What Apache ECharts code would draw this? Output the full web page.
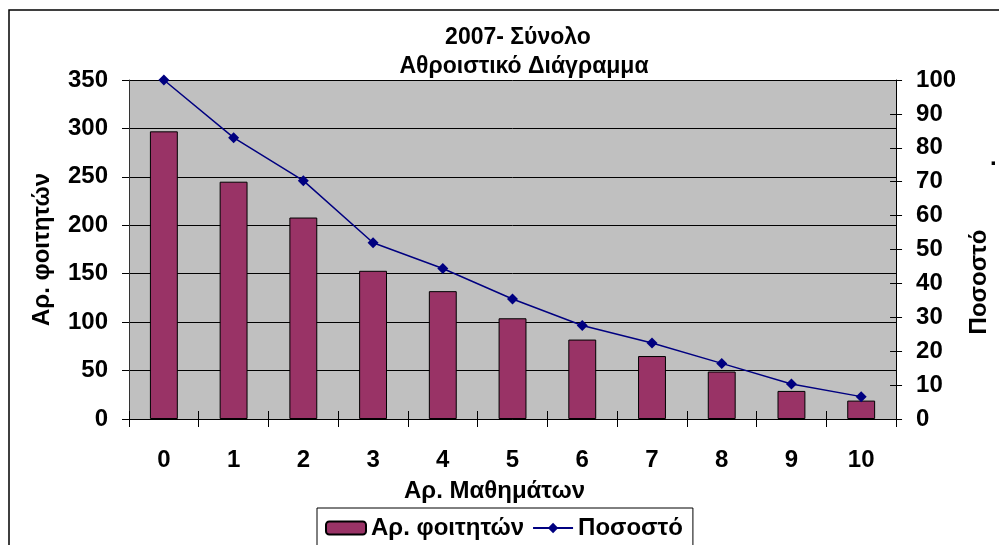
<!DOCTYPE html>
<html>
<head>
<meta charset="utf-8">
<script src="https://cdn.jsdelivr.net/npm/echarts@6/dist/echarts.min.js"></script>
<style>
    html, body { margin: 0; padding: 0; background: #ffffff; }
    #chart { width: 999px; height: 545px; }
</style>
</head>
<body>
<div id="chart"></div>
<script>
    // δεδομένα
    var categories = ['0', '1', '2', '3', '4', '5', '6', '7', '8', '9', '10'];
    var students = [297, 245, 208, 153, 132, 104, 82, 65, 49, 29, 19];
    var percent = [100, 83, 70.3, 52, 44.4, 35.4, 27.6, 22.4, 16.4, 10.3, 6.6];
    var leftTicks = { min: 0, max: 350, interval: 50 };
    var rightTicks = { min: 0, max: 100, interval: 10 };

    var font = 'Arial, "Liberation Sans", sans-serif';
    var bold = { fontFamily: font, fontWeight: 'bold', fontSize: 24, color: '#000' };

    var chart = echarts.init(document.getElementById('chart'));
    var options = {
        backgroundColor: '#ffffff',
        animation: false,
        title: [{
            text: '2007- Σύνολο',
            left: 513,
            top: 21,
            textAlign: 'center',
            textStyle: { fontFamily: font, fontWeight: 'bold', fontSize: 23, color: '#000' }
        }, {
            text: 'Αθροιστικό Διάγραμμα',
            left: 519,
            top: 50,
            textAlign: 'center',
            textStyle: { fontFamily: font, fontWeight: 'bold', fontSize: 23, color: '#000' }
        }],
        legend: {
            left: 317,
            top: 508,
            padding: [8, 10, 8, 8],
            itemGap: 8,
            itemWidth: 40,
            itemHeight: 13,
            borderColor: '#000',
            borderWidth: 1,
            backgroundColor: '#fff',
            textStyle: bold,
            data: ['Αρ. φοιτητών', 'Ποσοστό']
        },
        grid: {
            left: 129,
            right: 80,
            top: 80,
            bottom: 126,
            show: true,
            backgroundColor: '#C0C0C0',
            borderWidth: 0
        },
        xAxis: [{
            type: 'category',
            data: categories,
            name: 'Αρ. Μαθημάτων',
            nameLocation: 'middle',
            nameGap: 60,
            nameTextStyle: Object.assign({}, bold, { padding: [0, 36, 0, 0] }),
            axisLine: { lineStyle: { color: '#000', width: 1 } },
            axisTick: { show: true, length: 8, lineStyle: { color: '#000' } },
            axisLabel: Object.assign({}, bold, { margin: 29 })
        }, {
            type: 'category',
            data: categories,
            position: 'bottom',
            axisLine: { show: false },
            axisTick: { show: true, inside: true, length: 8, lineStyle: { color: '#000' } },
            axisLabel: { show: false }
        }],
        yAxis: [{
            type: 'value',
            min: leftTicks.min,
            max: leftTicks.max,
            interval: leftTicks.interval,
            name: 'Αρ. φοιτητών',
            nameLocation: 'middle',
            nameRotate: 90,
            nameGap: 75,
            nameTextStyle: bold,
            axisLine: { show: true, lineStyle: { color: '#333', width: 1 } },
            axisTick: { show: true, length: 7, lineStyle: { color: '#000' } },
            axisLabel: Object.assign({}, bold, { margin: 21 }),
            splitLine: { show: true, lineStyle: { color: '#000', width: 1 } }
        }, {
            type: 'value',
            position: 'right',
            min: rightTicks.min,
            max: rightTicks.max,
            interval: rightTicks.interval,
            name: 'Ποσοστό',
            nameLocation: 'middle',
            nameRotate: 90,
            nameGap: 70,
            nameTextStyle: Object.assign({}, bold, { padding: [0, 65, 0, 0] }),
            axisLine: { show: true, lineStyle: { color: '#000', width: 1 } },
            axisTick: { show: true, length: 6, lineStyle: { color: '#000' } },
            axisLabel: Object.assign({}, bold, { margin: 20 }),
            splitLine: { show: false }
        }, {
            type: 'value',
            position: 'right',
            min: rightTicks.min,
            max: rightTicks.max,
            interval: rightTicks.interval,
            axisLine: { show: false },
            axisTick: { show: true, inside: true, length: 6, lineStyle: { color: '#000' } },
            axisLabel: { show: false },
            splitLine: { show: false }
        }],
        graphic: [{
            type: 'rect',
            z: -10,
            silent: true,
            shape: { x: 9, y: 10, width: 1010, height: 600 },
            style: { fill: 'none', stroke: '#000', lineWidth: 1.5 }
        }, {
            type: 'text',
            left: 990,
            top: 146,
            style: { text: '.', font: 'bold 24px ' + font, fill: '#000' }
        }],
        series: [{
            name: 'Αρ. φοιτητών',
            type: 'bar',
            data: students,
            barWidth: '40%',
            itemStyle: { color: '#993366', borderColor: '#000', borderWidth: 1 }
        }, {
            name: 'Ποσοστό',
            type: 'line',
            yAxisIndex: 1,
            data: percent,
            symbol: 'diamond',
            symbolSize: 11,
            itemStyle: { color: '#000080' },
            lineStyle: { color: '#000080', width: 1.5 }
        }]
    };
    chart.setOption(options);
</script>
</body>
</html>
